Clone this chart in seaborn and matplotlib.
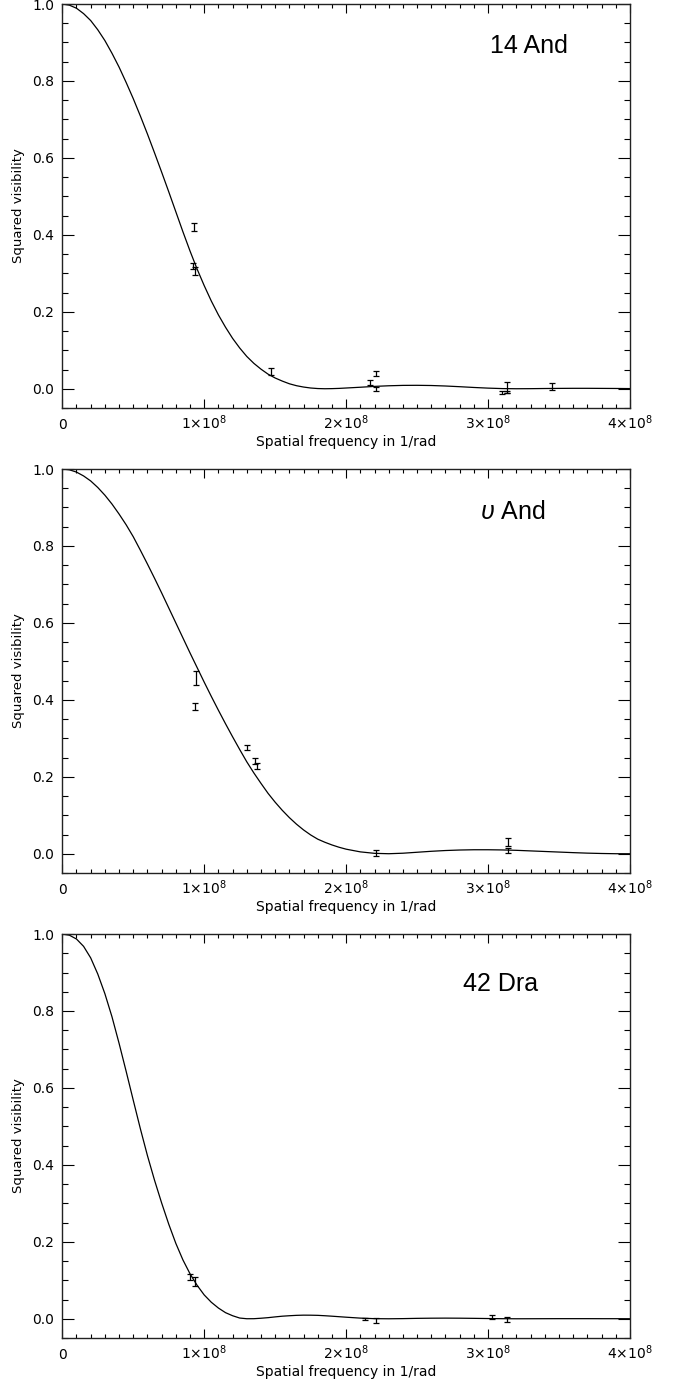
import numpy as np
import pandas as pd
import matplotlib
matplotlib.use('Agg')
import matplotlib.pyplot as plt
from matplotlib.ticker import MultipleLocator, FixedLocator, FixedFormatter, FormatStrFormatter
import seaborn as sns

# spatial frequency grid of the model curves (units of 1e8 / rad)
grid = [0.0, 0.05, 0.1, 0.15, 0.2, 0.25, 0.3, 0.35, 0.4, 0.45,
        0.5, 0.55, 0.6, 0.65, 0.7, 0.75, 0.8, 0.85, 0.9, 0.95,
        1.0, 1.05, 1.1, 1.15, 1.2, 1.25, 1.3, 1.35, 1.4, 1.45,
        1.5, 1.55, 1.6, 1.65, 1.7, 1.75, 1.8, 1.85, 1.9, 1.95, 2.0,
        2.1, 2.2, 2.3, 2.4, 2.5, 2.6, 2.7, 2.8, 2.9, 3.0,
        3.1, 3.2, 3.3, 3.4, 3.5, 3.6, 3.7, 3.8, 3.9, 4.0]

# model squared visibility
model_14and = [1.000, 0.997, 0.989, 0.975, 0.957, 0.933, 0.905, 0.872, 0.836, 0.796,
               0.754, 0.709, 0.662, 0.613, 0.563, 0.512, 0.460, 0.408, 0.358, 0.311,
               0.268, 0.228, 0.192, 0.160, 0.131, 0.106, 0.084, 0.066, 0.051, 0.038,
               0.028, 0.020, 0.013, 0.008, 0.0045, 0.002, 0.0006, 0.0001, 0.0004, 0.001, 0.002,
               0.004, 0.0062, 0.0078, 0.0088, 0.009, 0.0085, 0.0072, 0.0054, 0.0034, 0.0017,
               0.0005, 0.0001, 0.0003, 0.0007, 0.001, 0.0012, 0.0012, 0.001, 0.0008, 0.0005]
model_upsand = [1.000, 0.998, 0.992, 0.982, 0.969, 0.952, 0.932, 0.909, 0.883, 0.855,
                0.824, 0.789, 0.753, 0.716, 0.678, 0.639, 0.600, 0.561, 0.522, 0.484,
                0.446, 0.409, 0.373, 0.338, 0.304, 0.271, 0.239, 0.210, 0.183, 0.157,
                0.134, 0.113, 0.094, 0.077, 0.062, 0.049, 0.038, 0.030, 0.023, 0.017, 0.012,
                0.005, 0.0012, 0.0002, 0.0015, 0.004, 0.0065, 0.0085, 0.0098, 0.0105, 0.0105,
                0.010, 0.009, 0.0075, 0.006, 0.0045, 0.003, 0.0017, 0.0008, 0.0002, 0.0001]
model_42dra = [1.000, 0.997, 0.987, 0.968, 0.938, 0.896, 0.845, 0.785, 0.716, 0.643,
               0.568, 0.494, 0.424, 0.360, 0.301, 0.246, 0.196, 0.153, 0.117, 0.087,
               0.062, 0.043, 0.028, 0.016, 0.008, 0.002, 0.0002, 0.0003, 0.0015, 0.003,
               0.005, 0.0068, 0.008, 0.009, 0.0095, 0.0094, 0.009, 0.008, 0.0068, 0.0055, 0.0042,
               0.0018, 0.0004, 0.0001, 0.0005, 0.0012, 0.0016, 0.0018, 0.0016, 0.0012, 0.0007,
               0.0003, 0.0001, 0.0002, 0.0003, 0.0004, 0.0004, 0.0004, 0.0003, 0.0003, 0.0002]

# measurements (frequency in 1e8 / rad)
f_14and = [0.931, 0.920, 0.932, 1.472, 2.17, 2.21, 2.21, 3.10, 3.13, 3.13, 3.45]
v_14and = [0.421, 0.319, 0.306, 0.046, 0.017, 0.039, -0.001, -0.010, 0.003, -0.008, 0.007]
e_14and = [0.011, 0.008, 0.011, 0.009, 0.006, 0.006, 0.006, 0.003, 0.014, 0.003, 0.009]

f_upsand = [0.941, 0.937, 1.30, 1.355, 1.37, 2.21, 3.14, 3.14]
v_upsand = [0.457, 0.383, 0.277, 0.242, 0.228, 0.002, 0.031, 0.008]
e_upsand = [0.019, 0.008, 0.007, 0.008, 0.007, 0.009, 0.011, 0.006]

f_42dra = [0.901, 0.932, 2.13, 2.21, 3.03, 3.13]
v_42dra = [0.109, 0.096, 0.000, -0.004, 0.005, -0.002]
e_42dra = [0.008, 0.012, 0.003, 0.007, 0.006, 0.007]

names = ['14 And', r'$\upsilon$ And', '42 Dra']
name_pos = [(3.014, 0.873), (2.944, 0.871), (2.826, 0.851)]

xticks = [0, 1, 2, 3, 4]
xticklabels = ['0', r'1×10$^{8}$', r'2×10$^{8}$', r'3×10$^{8}$', r'4×10$^{8}$']

sns.set_style('ticks')
plt.rcParams['font.family'] = ['DejaVu Sans']
plt.rcParams['mathtext.fontset'] = 'custom'
plt.rcParams['mathtext.it'] = 'Liberation Sans:italic'
plt.rcParams['mathtext.rm'] = 'DejaVu Sans'
for k in ['text.color', 'axes.labelcolor', 'xtick.color', 'ytick.color']:
    plt.rcParams[k] = 'black'

fig, axes = plt.subplots(3, 1, figsize=(6.75, 13.81), dpi=100)
fig.subplots_adjust(left=0.0923, right=0.9333, top=0.9971, bottom=0.0311, hspace=0.151)

panels = [(model_14and, f_14and, v_14and, e_14and),
          (model_upsand, f_upsand, v_upsand, e_upsand),
          (model_42dra, f_42dra, v_42dra, e_42dra)]

for ax, (model, f, v, e), name, pos in zip(axes, panels, names, name_pos):
    curve = pd.DataFrame({'freq': np.array(grid) * 1e8, 'vis2': model})
    sns.lineplot(data=curve, x='freq', y='vis2', ax=ax, color='black', lw=0.9)
    ax.errorbar(np.array(f) * 1e8, v, yerr=e, fmt='none', ecolor='black',
                elinewidth=0.9, capsize=2.2, capthick=0.9)
    ax.text(pos[0] * 1e8, pos[1], name, fontsize=18, family='Liberation Sans',
            ha='left', va='baseline')

    ax.set_xlim(0, 4e8)
    ax.set_ylim(-0.05, 1.0)
    ax.xaxis.set_major_locator(FixedLocator(np.array(xticks) * 1e8))
    ax.xaxis.set_major_formatter(FixedFormatter(xticklabels))
    ax.xaxis.set_minor_locator(MultipleLocator(1e7))
    ax.yaxis.set_major_locator(MultipleLocator(0.2))
    ax.yaxis.set_minor_locator(MultipleLocator(0.05))
    ax.yaxis.set_major_formatter(FormatStrFormatter('%.1f'))

    ax.tick_params(axis='x', which='major', direction='in', length=6.5, width=0.8,
                   top=True, bottom=True, pad=15, labelsize=10)
    ax.tick_params(axis='x', which='minor', direction='in', length=3, width=0.8,
                   top=True, bottom=True)
    ax.tick_params(axis='y', which='major', direction='in', length=8.6, width=0.8,
                   left=True, right=True, pad=6, labelsize=10)
    ax.tick_params(axis='y', which='minor', direction='in', length=4.3, width=0.8,
                   left=True, right=True)
    plt.setp(ax.get_xticklabels(), va='baseline')
    for s in ax.spines.values():
        s.set_visible(True)
        s.set_linewidth(1.0)
        s.set_color('#222222')

    ax.set_xlabel('Spatial frequency in 1/rad', fontsize=10, labelpad=2)
    ax.set_ylabel('Squared visibility', fontsize=9.5, labelpad=5)

fig.savefig('out.png', dpi=100)
